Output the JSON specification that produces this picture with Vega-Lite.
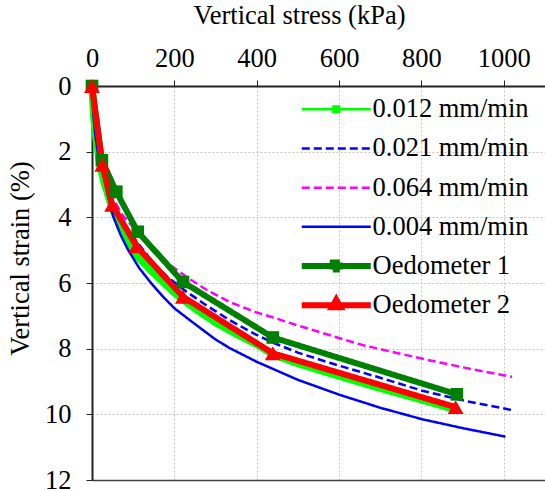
{
  "$schema": "https://vega.github.io/schema/vega-lite/v6.json",
  "width": 453,
  "height": 394,
  "autosize": "none",
  "padding": {"left": 92, "top": 86, "right": 0, "bottom": 11},
  "background": "white",
  "config": {
    "view": {"stroke": null},
    "font": "Liberation Serif, Times New Roman, Times, serif",
    "axis": {
      "labelFont": "Liberation Serif, Times New Roman, Times, serif",
      "titleFont": "Liberation Serif, Times New Roman, Times, serif",
      "labelFontSize": 26.5,
      "labelColor": "black",
      "labelFlush": false,
      "titleFontSize": 26.5,
      "titleFontWeight": "normal",
      "titleColor": "black",
      "tickColor": "#222222",
      "tickSize": 6,
      "domainColor": "#222222",
      "domainWidth": 2,
      "gridColor": "#c4c4c4",
      "gridDash": [2, 2],
      "gridWidth": 1
    },
    "legend": {
      "labelFont": "Liberation Serif, Times New Roman, Times, serif"
    }
  },
  "data": {
    "values": [
      {"series": "0.012 mm/min", "stress": 0, "strain": 0},
      {"series": "0.012 mm/min", "stress": 5, "strain": 1.0},
      {"series": "0.012 mm/min", "stress": 10, "strain": 1.6},
      {"series": "0.012 mm/min", "stress": 20, "strain": 2.45},
      {"series": "0.012 mm/min", "stress": 30, "strain": 2.95},
      {"series": "0.012 mm/min", "stress": 50, "strain": 3.75},
      {"series": "0.012 mm/min", "stress": 75, "strain": 4.45},
      {"series": "0.012 mm/min", "stress": 100, "strain": 5.05},
      {"series": "0.012 mm/min", "stress": 150, "strain": 5.7},
      {"series": "0.012 mm/min", "stress": 200, "strain": 6.3},
      {"series": "0.012 mm/min", "stress": 250, "strain": 6.78},
      {"series": "0.012 mm/min", "stress": 300, "strain": 7.2},
      {"series": "0.012 mm/min", "stress": 350, "strain": 7.55},
      {"series": "0.012 mm/min", "stress": 400, "strain": 7.87},
      {"series": "0.012 mm/min", "stress": 440, "strain": 8.18},
      {"series": "0.012 mm/min", "stress": 500, "strain": 8.45},
      {"series": "0.012 mm/min", "stress": 577, "strain": 8.75},
      {"series": "0.012 mm/min", "stress": 700, "strain": 9.2},
      {"series": "0.012 mm/min", "stress": 800, "strain": 9.55},
      {"series": "0.012 mm/min", "stress": 890, "strain": 9.88},
      {"series": "0.021 mm/min", "stress": 0, "strain": 0},
      {"series": "0.021 mm/min", "stress": 5, "strain": 0.85},
      {"series": "0.021 mm/min", "stress": 10, "strain": 1.45},
      {"series": "0.021 mm/min", "stress": 20, "strain": 2.2},
      {"series": "0.021 mm/min", "stress": 30, "strain": 2.7},
      {"series": "0.021 mm/min", "stress": 50, "strain": 3.5},
      {"series": "0.021 mm/min", "stress": 75, "strain": 4.15},
      {"series": "0.021 mm/min", "stress": 100, "strain": 4.6},
      {"series": "0.021 mm/min", "stress": 125, "strain": 5.0},
      {"series": "0.021 mm/min", "stress": 150, "strain": 5.4},
      {"series": "0.021 mm/min", "stress": 180, "strain": 5.78},
      {"series": "0.021 mm/min", "stress": 222, "strain": 6.2},
      {"series": "0.021 mm/min", "stress": 280, "strain": 6.7},
      {"series": "0.021 mm/min", "stress": 334, "strain": 7.13},
      {"series": "0.021 mm/min", "stress": 390, "strain": 7.52},
      {"series": "0.021 mm/min", "stress": 440, "strain": 7.82},
      {"series": "0.021 mm/min", "stress": 500, "strain": 8.12},
      {"series": "0.021 mm/min", "stress": 577, "strain": 8.43},
      {"series": "0.021 mm/min", "stress": 698, "strain": 8.88},
      {"series": "0.021 mm/min", "stress": 802, "strain": 9.28},
      {"series": "0.021 mm/min", "stress": 910, "strain": 9.6},
      {"series": "0.021 mm/min", "stress": 1020, "strain": 9.87},
      {"series": "0.064 mm/min", "stress": 0, "strain": 0},
      {"series": "0.064 mm/min", "stress": 5, "strain": 0.8},
      {"series": "0.064 mm/min", "stress": 10, "strain": 1.4},
      {"series": "0.064 mm/min", "stress": 20, "strain": 2.15},
      {"series": "0.064 mm/min", "stress": 30, "strain": 2.65},
      {"series": "0.064 mm/min", "stress": 50, "strain": 3.4},
      {"series": "0.064 mm/min", "stress": 75, "strain": 3.95},
      {"series": "0.064 mm/min", "stress": 100, "strain": 4.3},
      {"series": "0.064 mm/min", "stress": 125, "strain": 4.65},
      {"series": "0.064 mm/min", "stress": 150, "strain": 4.95},
      {"series": "0.064 mm/min", "stress": 190, "strain": 5.45},
      {"series": "0.064 mm/min", "stress": 233, "strain": 5.85},
      {"series": "0.064 mm/min", "stress": 280, "strain": 6.22},
      {"series": "0.064 mm/min", "stress": 334, "strain": 6.58},
      {"series": "0.064 mm/min", "stress": 400, "strain": 6.9},
      {"series": "0.064 mm/min", "stress": 440, "strain": 7.05},
      {"series": "0.064 mm/min", "stress": 496, "strain": 7.28},
      {"series": "0.064 mm/min", "stress": 580, "strain": 7.6},
      {"series": "0.064 mm/min", "stress": 657, "strain": 7.89},
      {"series": "0.064 mm/min", "stress": 740, "strain": 8.13},
      {"series": "0.064 mm/min", "stress": 818, "strain": 8.35},
      {"series": "0.064 mm/min", "stress": 920, "strain": 8.62},
      {"series": "0.064 mm/min", "stress": 1020, "strain": 8.86},
      {"series": "0.004 mm/min", "stress": 0, "strain": 0},
      {"series": "0.004 mm/min", "stress": 3, "strain": 0.8},
      {"series": "0.004 mm/min", "stress": 8, "strain": 1.5},
      {"series": "0.004 mm/min", "stress": 15, "strain": 2.1},
      {"series": "0.004 mm/min", "stress": 27, "strain": 2.67},
      {"series": "0.004 mm/min", "stress": 40, "strain": 3.4},
      {"series": "0.004 mm/min", "stress": 52, "strain": 3.99},
      {"series": "0.004 mm/min", "stress": 70, "strain": 4.55},
      {"series": "0.004 mm/min", "stress": 88, "strain": 5.0},
      {"series": "0.004 mm/min", "stress": 115, "strain": 5.55},
      {"series": "0.004 mm/min", "stress": 144, "strain": 6.01},
      {"series": "0.004 mm/min", "stress": 175, "strain": 6.45},
      {"series": "0.004 mm/min", "stress": 201, "strain": 6.78},
      {"series": "0.004 mm/min", "stress": 250, "strain": 7.25},
      {"series": "0.004 mm/min", "stress": 300, "strain": 7.72},
      {"series": "0.004 mm/min", "stress": 334, "strain": 7.98},
      {"series": "0.004 mm/min", "stress": 400, "strain": 8.4},
      {"series": "0.004 mm/min", "stress": 500, "strain": 8.95},
      {"series": "0.004 mm/min", "stress": 600, "strain": 9.4},
      {"series": "0.004 mm/min", "stress": 700, "strain": 9.8},
      {"series": "0.004 mm/min", "stress": 802, "strain": 10.15},
      {"series": "0.004 mm/min", "stress": 900, "strain": 10.42},
      {"series": "0.004 mm/min", "stress": 1004, "strain": 10.68},
      {"series": "Oedometer 1", "stress": 0, "strain": 0},
      {"series": "Oedometer 1", "stress": 24, "strain": 2.26},
      {"series": "Oedometer 1", "stress": 59, "strain": 3.22},
      {"series": "Oedometer 1", "stress": 111, "strain": 4.44},
      {"series": "Oedometer 1", "stress": 221, "strain": 5.97},
      {"series": "Oedometer 1", "stress": 439, "strain": 7.66},
      {"series": "Oedometer 1", "stress": 886, "strain": 9.39},
      {"series": "Oedometer 2", "stress": 0, "strain": 0},
      {"series": "Oedometer 2", "stress": 25, "strain": 2.4},
      {"series": "Oedometer 2", "stress": 49, "strain": 3.62},
      {"series": "Oedometer 2", "stress": 108, "strain": 4.88},
      {"series": "Oedometer 2", "stress": 221, "strain": 6.42},
      {"series": "Oedometer 2", "stress": 439, "strain": 8.14},
      {"series": "Oedometer 2", "stress": 883, "strain": 9.78}
    ]
  },
  "resolve": {"axis": {"x": "independent"}},
  "layer": [
    {
      "transform": [{"filter": "datum.series === '0.012 mm/min'"}],
      "mark": {"type": "line", "stroke": "#00ff00", "strokeWidth": 7.5, "strokeJoin": "round", "clip": false},
      "encoding": {
        "x": {
          "field": "stress",
          "type": "quantitative",
          "scale": {"domain": [0, 1100], "nice": false, "zero": false},
          "axis": {
            "orient": "top",
            "title": "Vertical stress (kPa)",
            "values": [0, 200, 400, 600, 800, 1000],
            "format": "d",
            "labelPadding": 8,
            "titlePadding": 10,
            "titleX": 207,
            "titleY": -57,
            "titleAnchor": "middle",
            "grid": true
          }
        },
        "y": {
          "field": "strain",
          "type": "quantitative",
          "scale": {"domain": [0, 12], "reverse": true, "nice": false, "zero": false},
          "axis": {
            "title": "Vertical strain (%)",
            "values": [0, 2, 4, 6, 8, 10, 12],
            "labelPadding": 15,
            "titleX": -58,
            "titleY": 172,
            "titleAnchor": "middle",
            "grid": true
          }
        },
        "order": {"field": "stress", "type": "quantitative"}
      }
    },
    {
      "mark": {"type": "line", "strokeJoin": "round", "clip": false},
      "encoding": {
        "x": {"field": "stress", "type": "quantitative", "axis": null},
        "y": {"field": "strain", "type": "quantitative"},
        "color": {
          "field": "series",
          "type": "nominal",
          "sort": null,
          "scale": {
            "domain": ["0.012 mm/min", "0.021 mm/min", "0.064 mm/min", "0.004 mm/min", "Oedometer 1", "Oedometer 2"],
            "range": ["#00ff00", "#0000ff", "#ff00ff", "#0000ff", "#008000", "#ff0000"]
          },
          "legend": {
            "title": null,
            "orient": "none",
            "legendX": 207,
            "legendY": 10,
            "padding": 0,
            "columns": 1,
            "gridAlign": "all",
            "symbolSize": 400,
            "symbolOffset": 24,
            "labelOffset": 23,
            "labelFontSize": 26.5,
            "labelColor": "black",
            "labelLimit": 400,
            "rowPadding": 5.2,
            "encode": {
              "symbols": {
                "update": {
                  "shape": {"signal": "datum.value === '0.012 mm/min' ? 'M-3.45,0H3.45M-0.28,-0.28H0.28V0.28H-0.28Z' : datum.value === 'Oedometer 1' ? 'M-3.45,0H3.45M-0.35,-0.35H0.35V0.35H-0.35Z' : datum.value === 'Oedometer 2' ? 'M-3.45,0H3.45M0,-0.55L0.42,0.2H-0.42Z' : 'M-3.45,0H3.45'"},
                  "stroke": {"signal": "scale('color', datum.value)"},
                  "fill": {"signal": "scale('color', datum.value)"},
                  "opacity": {"value": 1}
                }
              }
            }
          }
        },
        "strokeDash": {
          "field": "series",
          "type": "nominal",
          "scale": {
            "domain": ["0.012 mm/min", "0.021 mm/min", "0.064 mm/min", "0.004 mm/min", "Oedometer 1", "Oedometer 2"],
            "range": [[1, 0], [8, 4], [8, 4], [1, 0], [1, 0], [1, 0]]
          },
          "legend": null
        },
        "strokeWidth": {
          "field": "series",
          "type": "nominal",
          "scale": {
            "type": "ordinal",
            "domain": ["0.012 mm/min", "0.021 mm/min", "0.064 mm/min", "0.004 mm/min", "Oedometer 1", "Oedometer 2"],
            "range": [2.5, 2.5, 2.5, 2.5, 6, 6]
          },
          "legend": null
        },
        "order": {"field": "stress", "type": "quantitative"}
      }
    },
    {
      "transform": [{"filter": "datum.series === 'Oedometer 1' || datum.series === 'Oedometer 2'"}],
      "mark": {"type": "point", "filled": true, "opacity": 1, "clip": false},
      "encoding": {
        "x": {
          "field": "stress",
          "type": "quantitative",
          "axis": {"orient": "bottom", "labels": false, "ticks": false, "grid": false, "title": null, "domainColor": "#404040", "domainWidth": 1.5}
        },
        "y": {"field": "strain", "type": "quantitative"},
        "fill": {
          "field": "series",
          "type": "nominal",
          "scale": {"domain": ["Oedometer 1", "Oedometer 2"], "range": ["#008000", "#ff0000"]},
          "legend": null
        },
        "shape": {
          "field": "series",
          "type": "nominal",
          "scale": {"domain": ["Oedometer 1", "Oedometer 2"], "range": ["square", "triangle-up"]},
          "legend": null
        },
        "size": {
          "field": "series",
          "type": "nominal",
          "scale": {"type": "ordinal", "domain": ["Oedometer 1", "Oedometer 2"], "range": [160, 256]},
          "legend": null
        }
      }
    }
  ]
}
